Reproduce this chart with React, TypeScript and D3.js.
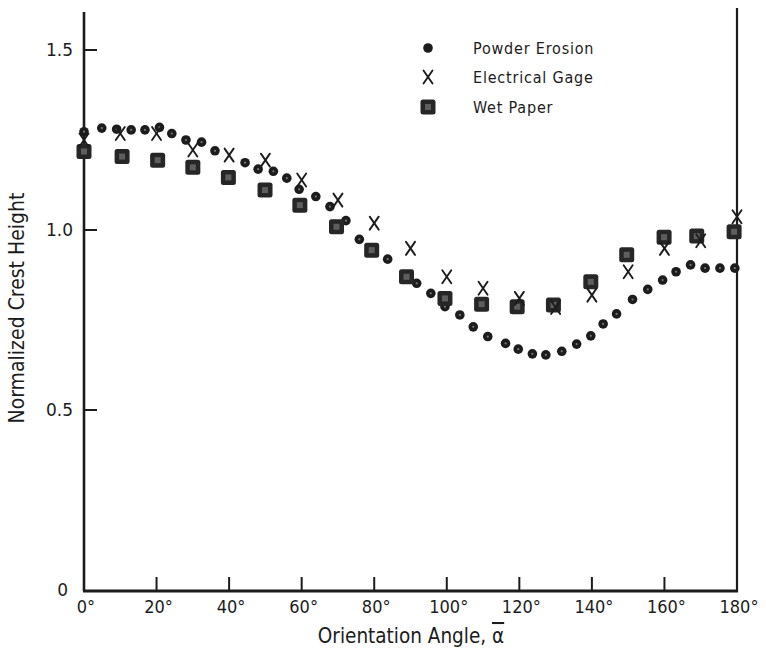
import React from "react";
import * as d3 from "d3";

const powderAngle = [0, 4.9, 9, 13, 16.8, 20.8, 24.2, 28.1, 32.4, 36.1, 44.4, 48, 52.2, 55.9, 59.3, 63.9, 67.8, 72.2, 75.9, 83.7, 91.7, 95.6, 99.5, 103.6, 107.3, 111.3, 116.2, 119.7, 123.6, 127.3, 131.7, 135.8, 139.7, 143.1, 146.8, 151.2, 155.4, 159.5, 163.2, 167.2, 171.2, 175.3, 179.4];
const powderValue = [1.273, 1.283, 1.28, 1.278, 1.278, 1.285, 1.268, 1.25, 1.244, 1.22, 1.187, 1.169, 1.163, 1.144, 1.113, 1.093, 1.065, 1.026, 0.974, 0.919, 0.852, 0.824, 0.787, 0.764, 0.731, 0.704, 0.685, 0.669, 0.656, 0.653, 0.663, 0.683, 0.706, 0.739, 0.767, 0.807, 0.835, 0.861, 0.884, 0.903, 0.894, 0.894, 0.894];

const gageAngle = [0, 10, 20, 30, 40, 50, 60, 70, 80, 90, 100, 110, 120, 130, 140, 150, 160, 170, 180];
const gageValue = [1.25, 1.268, 1.268, 1.222, 1.208, 1.194, 1.139, 1.083, 1.019, 0.949, 0.87, 0.838, 0.81, 0.785, 0.819, 0.884, 0.949, 0.97, 1.037];

const paperAngle = [0, 10.5, 20.3, 30, 39.8, 49.9, 59.5, 69.6, 79.3, 88.9, 99.5, 109.6, 119.4, 129.4, 139.7, 149.6, 159.9, 168.9, 179.2];
const paperValue = [1.218, 1.204, 1.194, 1.174, 1.146, 1.111, 1.069, 1.009, 0.944, 0.87, 0.81, 0.794, 0.787, 0.792, 0.856, 0.931, 0.98, 0.983, 0.995];

const xTicks = [0, 20, 40, 60, 80, 100, 120, 140, 160, 180];
const yTicks = [0, 0.5, 1.0, 1.5];
const yTickLabels = ["0", "0.5", "1.0", "1.5"];
const legendLabels = ["Powder Erosion", "Electrical Gage", "Wet Paper"];

const W = 766;
const H = 657;
const INK = "#1c1c1c";
const FONT = "'DejaVu Sans Condensed', 'DejaVu Sans', sans-serif";

export default function App() {
  const x = d3.scaleLinear().domain([0, 180]).range([84, 737]);
  const y = d3.scaleLinear().domain([0, 1.5]).range([590, 50]);

  const dot = (cx: number, cy: number, key: string | number, solid = false) => (
    <g key={key}>
      <circle cx={cx} cy={cy} r={4.8} fill={INK} />
      {!solid && <circle cx={cx} cy={cy} r={1.1} fill="#777" />}
    </g>
  );
  const cross = (cx: number, cy: number, key: string | number) => (
    <g key={key} stroke={INK} strokeWidth={1.9} strokeLinecap="round">
      <line x1={cx - 4.5} y1={cy - 6.5} x2={cx + 4.5} y2={cy + 6.5} />
      <line x1={cx + 4.5} y1={cy - 6.5} x2={cx - 4.5} y2={cy + 6.5} />
    </g>
  );
  const square = (cx: number, cy: number, key: string | number) => (
    <g key={key}>
      <rect x={cx - 7.5} y={cy - 7.5} width={15} height={15} rx={2.5} fill="#262626" />
      <rect x={cx - 3} y={cy - 3} width={6} height={6} fill="#5e5e5e" />
    </g>
  );

  return (
    <svg
      width={W}
      height={H}
      style={{ position: "absolute", left: 0, top: 0, background: "#fff" }}
      fontFamily={FONT}
    >
      {/* axes */}
      <line x1={84} y1={12} x2={84} y2={591} stroke={INK} strokeWidth={2.6} />
      <line x1={83} y1={591} x2={738} y2={591} stroke={INK} strokeWidth={2.8} />
      <line x1={737} y1={8} x2={737} y2={592} stroke={INK} strokeWidth={2.2} />

      {/* y ticks */}
      {yTicks.map((t, i) => (
        <g key={"yt" + i}>
          {t > 0 && <line x1={84} x2={97} y1={y(t)} y2={y(t)} stroke={INK} strokeWidth={2} />}
          <text
            x={t === 0 ? 68 : 73}
            y={y(t)}
            dy="0.36em"
            textAnchor="end"
            fontSize={17}
            fill={INK}
            fontFamily="'DejaVu Sans', sans-serif"
          >
            {yTickLabels[i]}
          </text>
        </g>
      ))}

      {/* x ticks */}
      {xTicks.map((t) => (
        <g key={"xt" + t}>
          {t > 0 && t < 180 && (
            <line x1={x(t)} x2={x(t)} y1={591} y2={577} stroke={INK} strokeWidth={2} />
          )}
          <text
            x={x(t) + 2}
            y={607}
            dy="0.36em"
            textAnchor="middle"
            fontSize={18}
            fill={INK}
          >
            {t + "°"}
          </text>
        </g>
      ))}

      {/* axis titles */}
      <text x={411} y={643} textAnchor="middle" fontSize={20.5} fill={INK}>
        Orientation Angle, <tspan textDecoration="overline">α</tspan>
      </text>
      <text
        transform={`translate(24, 308) rotate(-90)`}
        textAnchor="middle"
        fontSize={21}
        fill={INK}
      >
        Normalized Crest Height
      </text>

      {/* data */}
      {powderAngle.map((a, i) => dot(x(a), y(powderValue[i]), "p" + i))}
      {paperAngle.map((a, i) => square(x(a), y(paperValue[i]), "s" + i))}
      {gageAngle.map((a, i) => cross(x(a), y(gageValue[i]), "g" + i))}

      {/* legend */}
      {dot(428, 48, "ld", true)}
      {cross(428, 77, "lx")}
      {square(428, 107, "ls")}
      {legendLabels.map((l, i) => (
        <text
          key={"lg" + i}
          x={473}
          y={48 + i * 29.5}
          dy="0.36em"
          fontSize={16}
          letterSpacing={0.8}
          fill={INK}
        >
          {l}
        </text>
      ))}
    </svg>
  );
}
